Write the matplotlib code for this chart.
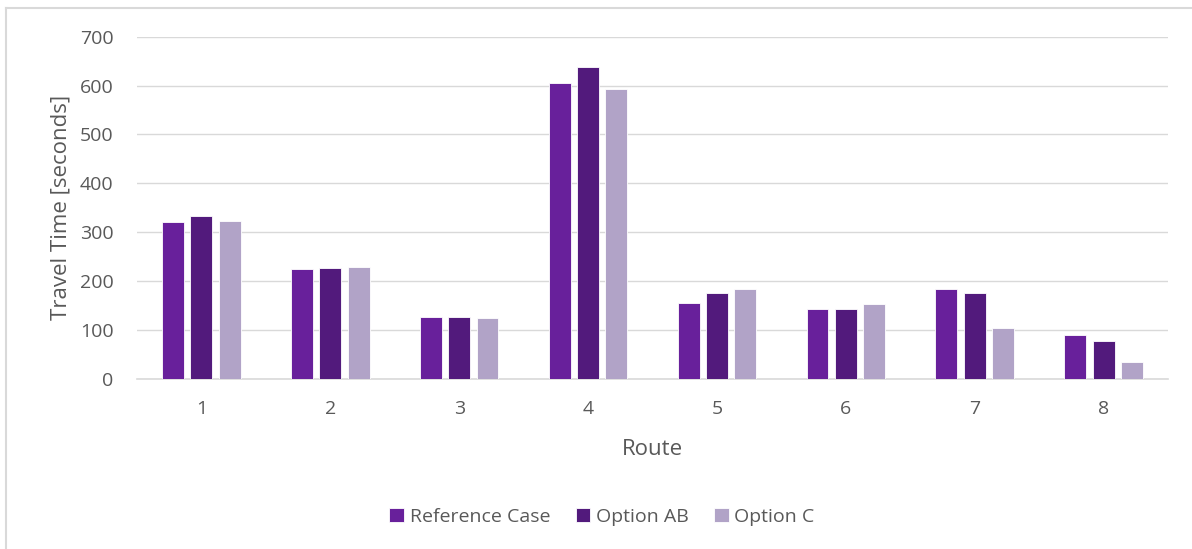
import numpy as np
import matplotlib
matplotlib.use("Agg")
import matplotlib.pyplot as plt
from matplotlib.lines import Line2D

routes = ["1", "2", "3", "4", "5", "6", "7", "8"]
reference_case = [320, 224, 126, 605, 154, 143, 184, 89]
option_ab = [332, 226, 126, 637, 175, 143, 175, 78]
option_c = [322, 228, 125, 593, 183, 153, 104, 35]

SERIES = [("Reference Case", reference_case, "#68209b"),
          ("Option AB", option_ab, "#521a7c"),
          ("Option C", option_c, "#b1a3c7")]
TEXT, GRID = "#595959", "#d9d9d9"

plt.rcParams.update({"font.family": ["Open Sans", "DejaVu Sans"], "font.size": 14})

fig = plt.figure(figsize=(11.92, 5.49), dpi=100)
# chart-area frame: only the left and top edges fall inside the image
fx, fy = 6 / 1192, 1 - 8 / 549
fig.add_artist(Line2D([fx, fx], [0, fy], transform=fig.transFigure, color=GRID, lw=1.5))
fig.add_artist(Line2D([fx, 1], [fy, fy], transform=fig.transFigure, color=GRID, lw=1.5))

ax = fig.add_axes([0.1149, 0.3102, 0.8650, 0.6230])

x = np.arange(1, len(routes) + 1)
w, step = 0.17, 0.22
for i, (label, vals, color) in enumerate(SERIES):
    ax.bar(x + (i - 1) * step, vals, w, color=color, label=label,
           edgecolor="white", linewidth=0.6, zorder=3)

ax.set_xlim(0.5, 8.5)
ax.set_ylim(0, 700)
ax.set_yticks(range(0, 701, 100))
ax.set_xticks(x, routes)
ax.grid(axis="y", color=GRID, linewidth=1, zorder=0)
ax.tick_params(length=0, colors=TEXT, labelsize=14)
ax.tick_params(axis="y", pad=17)
ax.tick_params(axis="x", pad=15.5)
for s in ("top", "right", "left"):
    ax.spines[s].set_visible(False)
ax.spines["bottom"].set_color(GRID)
ax.spines["bottom"].set_linewidth(1.2)

ax.set_xlabel("Route", color=TEXT, fontsize=16, labelpad=15)
ax.set_ylabel("Travel Time [seconds]", color=TEXT, fontsize=16, labelpad=6)

fig.legend(loc="center", bbox_to_anchor=(0.505, 0.058), ncol=3, frameon=False,
           handlelength=0.75, handleheight=0.75, handletextpad=0.3, columnspacing=1.3,
           fontsize=14, labelcolor=TEXT)

fig.savefig("out.png", dpi=100, facecolor="white")
